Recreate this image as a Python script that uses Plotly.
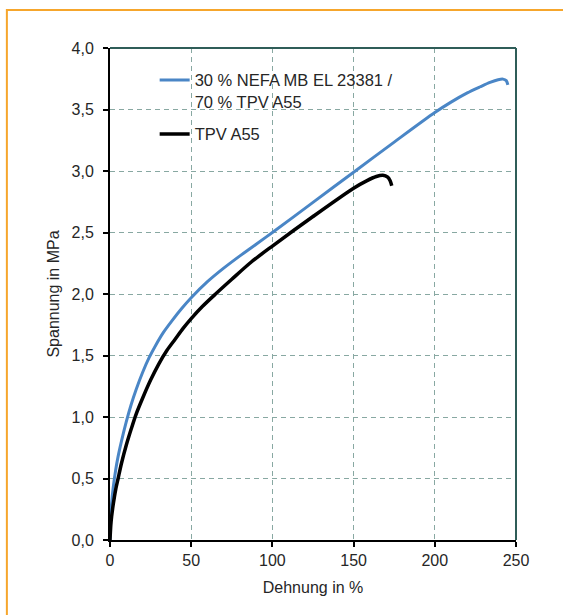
import plotly.graph_objects as go

# Data
strain_blend = [0, 0.5, 1, 2, 3.5, 5, 7, 10, 13, 16, 20, 24, 28, 33, 38, 44, 50, 60, 70, 80, 90, 100,
                125, 150, 175, 200, 210, 220, 228, 234, 239, 242, 244, 245]
stress_blend = [0, 0.2, 0.3, 0.43, 0.57, 0.68, 0.8, 0.96, 1.1, 1.22, 1.36, 1.48, 1.58, 1.69, 1.78, 1.88, 1.97,
                2.10, 2.21, 2.31, 2.405, 2.50, 2.745, 2.99, 3.235, 3.475, 3.56, 3.635, 3.685, 3.72, 3.742,
                3.747, 3.735, 3.70]

strain_tpv = [0, 0.5, 1, 2, 3.5, 5, 7, 10, 13, 16, 20, 25, 30, 35, 40, 45, 50, 57, 65, 75, 87, 100,
              125, 150, 158, 164, 168, 171, 172.5, 173.5]
stress_tpv = [0, 0.12, 0.19, 0.29, 0.41, 0.5, 0.62, 0.77, 0.9, 1.02, 1.15, 1.30, 1.43, 1.54, 1.63, 1.72, 1.80,
              1.90, 2.0, 2.12, 2.26, 2.39, 2.63, 2.86, 2.92, 2.955, 2.965, 2.95, 2.92, 2.88]

name_blend = "30 % NEFA MB EL 23381 /<br>70 % TPV A55"
name_tpv = "TPV A55"

x_ticks = [0, 50, 100, 150, 200, 250]
y_ticks = [0, 0.5, 1.0, 1.5, 2.0, 2.5, 3.0, 3.5, 4.0]
y_ticktext = ["0,0", "0,5", "1,0", "1,5", "2,0", "2,5", "3,0", "3,5", "4,0"]

fig = go.Figure()
fig.add_trace(go.Scatter(x=strain_blend, y=stress_blend, mode="lines", name=name_blend, legendgroup="a",
                         line=dict(color="#4a86c6", width=3, shape="spline", smoothing=0.8)))
fig.add_trace(go.Scatter(x=strain_tpv, y=stress_tpv, mode="lines", name=name_tpv, legendgroup="b",
                         line=dict(color="#000000", width=3.5, shape="spline", smoothing=0.8)))

axis_font = dict(family="Liberation Sans, Arial, sans-serif", size=16, color="#262626")
grid_col = "#88a8a2"

fig.update_xaxes(range=[0, 250], tickvals=x_ticks, ticktext=[str(v) for v in x_ticks],
                 showgrid=True, gridcolor=grid_col, gridwidth=1, griddash="5px,4px",
                 showline=True, linecolor="#000000", linewidth=2,
                 ticks="outside", ticklen=5, tickwidth=2, tickcolor="#000000",
                 tickfont=axis_font, zeroline=False,
                 title=dict(text="Dehnung in %", font=axis_font, standoff=14))
fig.update_yaxes(range=[0, 4.0], tickvals=y_ticks, ticktext=y_ticktext,
                 showgrid=True, gridcolor=grid_col, gridwidth=1, griddash="5px,4px",
                 showline=True, linecolor="#000000", linewidth=2,
                 ticks="outside", ticklen=5, tickwidth=2, tickcolor="#000000",
                 ticklabelstandoff=6,
                 tickfont=axis_font, zeroline=False,
                 title=dict(text="Spannung in MPa", font=axis_font, standoff=8))

# top and right frame of the plot area (dark teal)
fig.add_shape(type="line", xref="paper", yref="paper", x0=0, x1=1, y0=1, y1=1,
              line=dict(color="#2f5d58", width=2), layer="above")
fig.add_shape(type="line", xref="paper", yref="paper", x0=1, x1=1, y0=0, y1=1,
              line=dict(color="#2f5d58", width=2), layer="above")
# orange outer frame (extends beyond image on right and bottom)
fig.add_shape(type="rect", xref="paper", yref="paper", x0=-0.254, x1=2, y0=-1, y1=1.077,
              line=dict(color="#f6a62c", width=2), fillcolor="rgba(0,0,0,0)", layer="below")

fig.update_layout(
    width=563, height=615,
    margin=dict(l=110, r=47, t=48, b=75),
    paper_bgcolor="white", plot_bgcolor="white",
    font=axis_font,
    legend=dict(x=0.11, y=0.97, xanchor="left", yanchor="top", bgcolor="rgba(0,0,0,0)",
                valign="top", itemwidth=30, tracegroupgap=8,
                font=dict(family="Liberation Sans, Arial", size=16.5, color="#262626")),
    showlegend=True,
)

fig.write_html("out.html")
